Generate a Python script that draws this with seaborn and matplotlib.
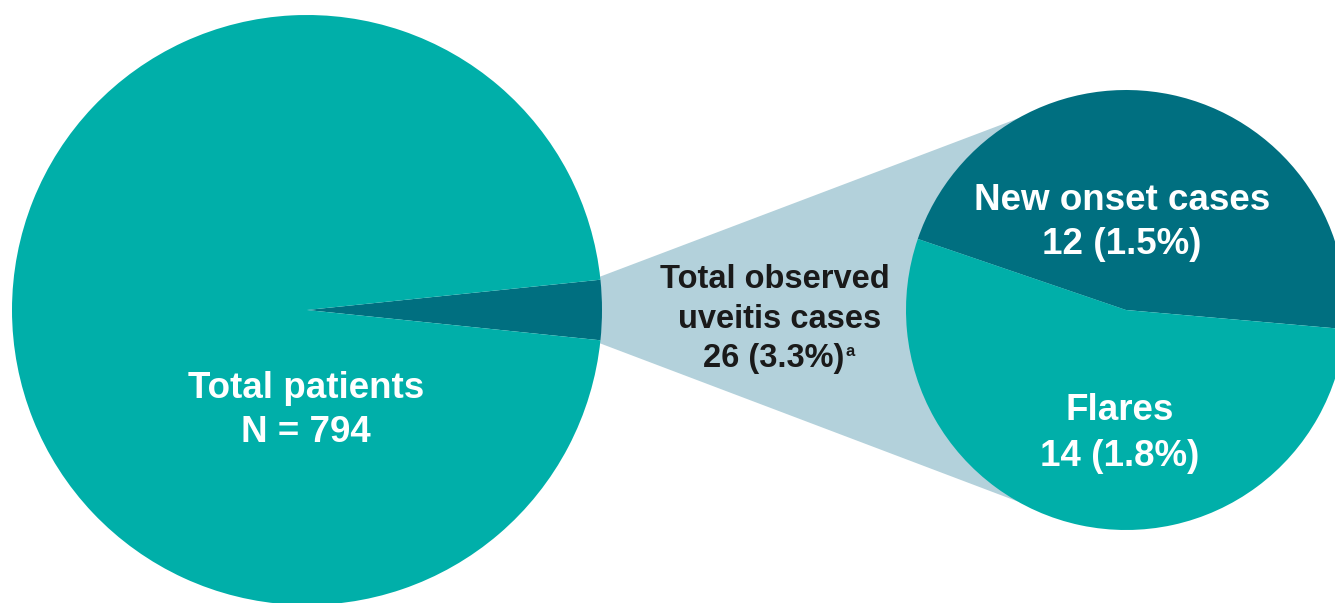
import numpy as np
import matplotlib
matplotlib.use("Agg")
import matplotlib.pyplot as plt
import seaborn as sns
from matplotlib.patches import Polygon

# ---- data ----
total_label = "Total patients"
total_n = 794
uveitis_label = ["Total observed", "uveitis cases"]
uveitis_n = 26
sub_labels = ["New onset cases", "Flares"]
sub_values = [12, 14]

# ---- style ----
TEAL = "#00AFA9"
DARK = "#006F80"
LIGHT = "#B3D1DB"

sns.set_theme(style="white")
plt.rcParams["font.family"] = ["Liberation Sans", "DejaVu Sans"]

W, H = 1335, 603
fig = plt.figure(figsize=(W / 100, H / 100), dpi=100)
ax = fig.add_axes([0, 0, 1, 1])

# geometry (pixel-space layout)
c1 = (307, H - 310)
r1 = 295
c2 = (1126, H - 310)
r2 = 220

# left pie: uveitis wedge centred on the right
main_vals = [uveitis_n, total_n - uveitis_n]
half = uveitis_n / total_n * 360 / 2
ax.pie(main_vals, colors=[DARK, TEAL], startangle=-half, counterclock=True,
       center=c1, radius=r1, frame=True,
       wedgeprops=dict(linewidth=0))

# connector (behind right pie)
a_l = np.deg2rad(half + 0.6)
a_r = np.deg2rad(119.5)
pts = [
    (c1[0] + r1 * np.cos(a_l), c1[1] + r1 * np.sin(a_l)),
    (c2[0] + r2 * np.cos(a_r), c2[1] + r2 * np.sin(a_r)),
    c2,
    (c2[0] + r2 * np.cos(-a_r), c2[1] + r2 * np.sin(-a_r)),
    (c1[0] + r1 * np.cos(-a_l), c1[1] + r1 * np.sin(-a_l)),
]
ax.add_patch(Polygon(pts, closed=True, facecolor=LIGHT, edgecolor="none", zorder=0.5))

# right pie
ax.pie(sub_values, colors=[DARK, TEAL], startangle=-5, counterclock=True,
       center=c2, radius=r2, frame=True,
       wedgeprops=dict(linewidth=0, zorder=2))
ax.set_xlim(0, W)
ax.set_ylim(0, H)
ax.axis("off")

def pct(v):
    return f"{v / total_n * 100:.1f}%"

wkw = dict(color="white", fontsize=26.5, fontweight="bold", ha="center", va="center", zorder=5)
ax.text(306, H - 388, total_label, **wkw)
ax.text(306, H - 433, f"N = {total_n}", **wkw)

ax.text(1122, H - 200, sub_labels[0], **wkw)
ax.text(1122, H - 245, f"{sub_values[0]} ({pct(sub_values[0])})", **wkw)
ax.text(1120, H - 411, sub_labels[1], **wkw)
ax.text(1120, H - 456, f"{sub_values[1]} ({pct(sub_values[1])})", **wkw)

bkw = dict(color="#1a1a1a", fontsize=23.5, fontweight="bold", ha="center", va="center", zorder=5)
ax.text(775, H - 279, uveitis_label[0], **bkw)
ax.text(780, H - 320, uveitis_label[1], **bkw)
ax.text(774, H - 359, f"{uveitis_n} ({pct(uveitis_n)})", **bkw)
ax.text(846, H - 351, "a", color="#1a1a1a", fontsize=12, fontweight="bold",
        ha="left", va="center", zorder=5)

fig.savefig("out.png", dpi=100)
